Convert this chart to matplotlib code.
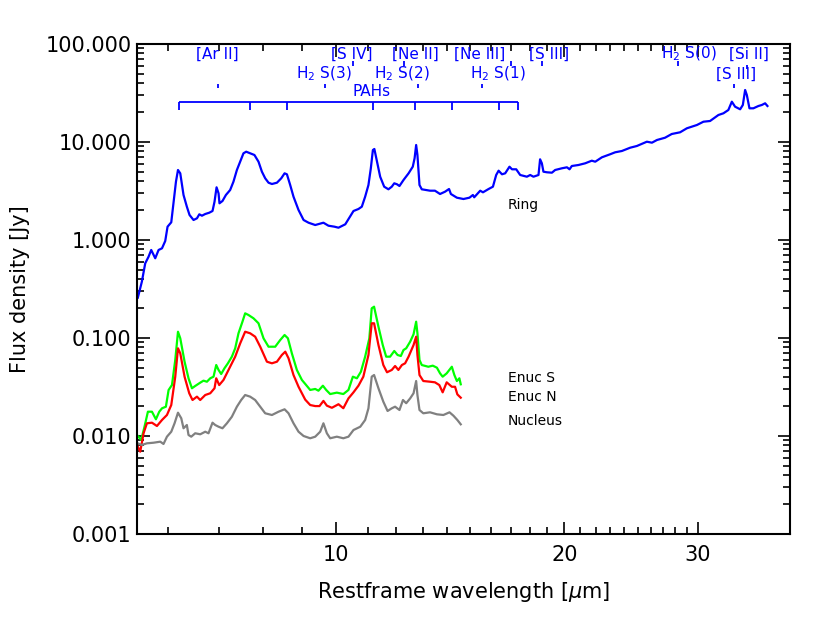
import matplotlib
matplotlib.use("Agg")
import matplotlib.pyplot as plt
from matplotlib.ticker import FixedLocator, NullFormatter, FixedFormatter

# Ring spectrum (wavelength in micron, flux in Jy)
ringWl = [5.474, 5.541, 5.598, 5.655, 5.701, 5.771, 5.830, 5.891, 5.949, 5.991,
          6.059, 6.102, 6.146, 6.184, 6.227, 6.289, 6.353, 6.405, 6.483, 6.551,
          6.598, 6.651, 6.718, 6.801, 6.868, 6.910, 6.953, 6.995, 7.015, 7.079,
          7.153, 7.246, 7.319, 7.396, 7.471, 7.545, 7.608, 7.700, 7.801, 7.898,
          7.980, 8.060, 8.142, 8.227, 8.353, 8.463, 8.549, 8.610, 8.696, 8.784,
          8.919, 9.057, 9.195, 9.383, 9.620, 9.768, 9.949, 10.07, 10.28, 10.43,
          10.54, 10.70, 10.81, 10.92, 11.03, 11.11, 11.18, 11.23, 11.32, 11.43,
          11.57, 11.72, 11.84, 11.93, 12.03, 12.12, 12.27, 12.46, 12.62, 12.69,
          12.75, 12.80, 12.88, 12.97, 13.30, 13.50, 13.71, 13.92, 14.09, 14.17,
          14.43, 14.72, 14.99, 15.15, 15.21, 15.49, 15.62, 15.89, 16.10, 16.26,
          16.38, 16.55, 16.71, 16.93, 17.06, 17.28, 17.49, 17.85, 18.03, 18.21,
          18.49, 18.58, 18.68, 18.77, 18.97, 19.26, 19.45, 19.85, 20.16, 20.32,
          20.46, 20.88, 21.31, 21.74, 21.97, 22.42, 22.98, 23.34, 23.82, 24.43,
          24.93, 25.70, 26.10, 26.50, 27.16, 27.72, 28.43, 29.02, 29.92, 30.52,
          31.14, 31.94, 32.43, 32.92, 33.27, 33.60, 34.12, 34.40, 34.64, 34.82,
          35.10, 35.52, 36.07, 36.44, 36.81, 37.07]
ringFlux = [0.258, 0.375, 0.578, 0.675, 0.791, 0.651, 0.791, 0.823, 0.977, 1.367,
            1.516, 2.459, 3.935, 5.18, 4.79, 2.879, 2.187, 1.800, 1.600, 1.665,
            1.829, 1.770, 1.842, 1.899, 1.977, 2.459, 3.450, 2.996, 2.369, 2.500,
            2.879, 3.237, 3.935, 5.18, 6.295, 7.668, 7.962, 7.668, 7.367, 6.295,
            4.978, 4.263, 3.843, 3.728, 3.843, 4.263, 4.79, 4.683, 3.641, 2.766,
            2.024, 1.600, 1.501, 1.422, 1.501, 1.399, 1.367, 1.335, 1.446, 1.729,
            1.977, 2.072, 2.187, 2.766, 3.641, 5.39, 8.286, 8.483, 6.295, 4.425,
            3.499, 3.292, 3.499, 3.790, 3.702, 3.556, 4.095, 4.79, 5.598, 6.82,
            9.32, 7.367, 3.641, 3.292, 3.185, 3.185, 2.947, 3.111, 3.315, 2.947,
            2.702, 2.620, 2.702, 2.879, 2.728, 3.185, 3.066, 3.315, 3.499, 4.606,
            5.095, 4.683, 4.79, 5.598, 5.266, 5.266, 4.606, 4.425, 4.606, 4.425,
            4.606, 6.661, 6.063, 4.978, 4.908, 4.862, 5.18, 5.39, 5.519, 5.266,
            5.690, 5.826, 6.063, 6.445, 6.295, 6.982, 7.490, 7.851, 8.094, 8.746,
            9.104, 10.07, 9.84, 10.48, 11.06, 12.07, 12.56, 13.80, 14.91, 16.11,
            16.38, 18.86, 19.63, 21.21, 25.78, 22.92, 21.57, 23.86, 33.94, 30.17,
            22.07, 22.07, 23.30, 23.86, 24.83, 23.30]

# Extranuclear south
enucSWl = [5.474, 5.53, 5.586, 5.644, 5.714, 5.783, 5.842, 5.891, 5.961, 6.010,
           6.072, 6.133, 6.184, 6.227, 6.309, 6.385, 6.452, 6.516, 6.616, 6.682,
           6.752, 6.821, 6.889, 6.946, 6.995, 7.051, 7.122, 7.197, 7.284, 7.358,
           7.432, 7.522, 7.584, 7.661, 7.778, 7.898, 8.019, 8.142, 8.309, 8.437,
           8.549, 8.636, 8.740, 8.874, 9.011, 9.102, 9.241, 9.383, 9.476, 9.604,
           9.701, 9.819, 10.02, 10.22, 10.38, 10.52, 10.65, 10.78, 10.92, 11.06,
           11.14, 11.22, 11.37, 11.52, 11.64, 11.78, 11.93, 12.05, 12.17, 12.27,
           12.37, 12.52, 12.65, 12.75, 12.80, 12.88, 12.97, 13.23, 13.41, 13.58,
           13.71, 13.82, 13.99, 14.21, 14.32, 14.43, 14.54, 14.60]
enucSFlux = [0.0100, 0.0091, 0.01244, 0.0177, 0.0177, 0.01481, 0.0177, 0.01917, 0.01991, 0.02946,
             0.03315, 0.05963, 0.1159, 0.0993, 0.0573, 0.0388, 0.0307, 0.0324, 0.0350, 0.0367,
             0.0358, 0.0388, 0.0403, 0.0530, 0.0472, 0.0429, 0.0491, 0.0552, 0.0645, 0.0785,
             0.1117, 0.1467, 0.1786, 0.1717, 0.1589, 0.1413, 0.0993, 0.0815, 0.0815, 0.0954,
             0.1073, 0.0993, 0.0698, 0.0472, 0.0373, 0.0340, 0.0295, 0.0302, 0.0290, 0.0326,
             0.0295, 0.0268, 0.0277, 0.0268, 0.0295, 0.0403, 0.0388, 0.0453, 0.0645, 0.0993,
             0.2009, 0.2087, 0.1304, 0.0848, 0.0645, 0.0645, 0.0737, 0.0671, 0.0655, 0.0754,
             0.0785, 0.0917, 0.1091, 0.1467, 0.1117, 0.0596, 0.0530, 0.0509, 0.0522, 0.0498,
             0.0436, 0.0403, 0.0436, 0.0509, 0.0419, 0.0364, 0.0388, 0.0337]

# Extranuclear north
enucNWl = [5.474, 5.514, 5.570, 5.627, 5.714, 5.801, 5.891, 5.980, 6.059, 6.133,
           6.184, 6.227, 6.309, 6.399, 6.463, 6.551, 6.616, 6.718, 6.821, 6.910,
           6.946, 7.009, 7.101, 7.210, 7.358, 7.471, 7.584, 7.700, 7.818, 7.939,
           8.102, 8.227, 8.353, 8.479, 8.567, 8.652, 8.784, 8.919, 9.102, 9.241,
           9.383, 9.506, 9.620, 9.721, 9.870, 10.07, 10.22, 10.38, 10.54, 10.70,
           10.86, 11.03, 11.14, 11.22, 11.37, 11.54, 11.67, 11.84, 11.96, 12.08,
           12.21, 12.33, 12.46, 12.65, 12.75, 12.80, 12.88, 13.03, 13.30, 13.50,
           13.68, 13.82, 13.99, 14.21, 14.35, 14.45, 14.60]
enucNFlux = [0.00778, 0.00692, 0.01066, 0.01348, 0.01367, 0.01265, 0.01457, 0.01638, 0.0207, 0.0403,
             0.0785, 0.0698, 0.0403, 0.0273, 0.0233, 0.0252, 0.0233, 0.0262, 0.0273, 0.0307,
             0.0388, 0.0331, 0.0373, 0.0472, 0.0645, 0.0883, 0.1159, 0.1117, 0.1031, 0.0815,
             0.0573, 0.0552, 0.0573, 0.0671, 0.0725, 0.0621, 0.0419, 0.0318, 0.0235, 0.0207,
             0.0202, 0.0202, 0.0228, 0.0204, 0.0194, 0.0211, 0.0192, 0.0242, 0.0279, 0.0326,
             0.0403, 0.0671, 0.1413, 0.1413, 0.0848, 0.0530, 0.0447, 0.0472, 0.0518, 0.0472,
             0.0530, 0.0552, 0.0645, 0.0848, 0.1031, 0.0671, 0.0419, 0.0364, 0.0358, 0.0353,
             0.0331, 0.0279, 0.0353, 0.0318, 0.0318, 0.0266, 0.0246]

# Nucleus
nucWl = [5.474, 5.541, 5.627, 5.741, 5.860, 5.918, 5.980, 6.059, 6.120, 6.184,
         6.246, 6.289, 6.353, 6.385, 6.438, 6.516, 6.616, 6.718, 6.785, 6.868,
         6.924, 6.995, 7.079, 7.175, 7.284, 7.396, 7.493, 7.584, 7.700, 7.818,
         7.939, 8.060, 8.227, 8.394, 8.549, 8.652, 8.784, 8.919, 9.057, 9.241,
         9.383, 9.526, 9.620, 9.721, 9.819, 10.02, 10.22, 10.38, 10.54, 10.76,
         10.92, 11.03, 11.14, 11.22, 11.37, 11.54, 11.69, 11.84, 11.96, 12.12,
         12.25, 12.37, 12.52, 12.65, 12.75, 12.80, 12.88, 13.03, 13.30, 13.58,
         13.85, 14.11, 14.28, 14.45, 14.60]
nucFlux = [0.00842, 0.0081, 0.00842, 0.00854, 0.00875, 0.00829, 0.00984, 0.01106, 0.01348, 0.01729,
           0.01516, 0.01199, 0.01295, 0.01024, 0.00984, 0.01066, 0.01041, 0.01106, 0.01066, 0.01367,
           0.01295, 0.01244, 0.01199, 0.01348, 0.01573, 0.01991, 0.0233, 0.0262, 0.0252, 0.0233,
           0.0199, 0.01705, 0.01638, 0.0177, 0.01873, 0.01705, 0.01348, 0.01106, 0.0100, 0.00948,
           0.00984, 0.01106, 0.01348, 0.01066, 0.00948, 0.00984, 0.00948, 0.00984, 0.01151, 0.01244,
           0.01457, 0.01917, 0.0403, 0.0419, 0.0307, 0.0224, 0.0180, 0.01917, 0.01991, 0.01842,
           0.0233, 0.0216, 0.0242, 0.0273, 0.0364, 0.0262, 0.01842, 0.01705, 0.01745, 0.01665,
           0.01638, 0.01745, 0.01611, 0.01457, 0.01316]

# Line identifications: label, text wavelength, text row
lineLabels = ["[Ar II]", "[S IV]", "[Ne II]", "[Ne III]", "[S III]", "H$_2$ S(0)", "[Si II]",
              "H$_2$ S(3)", "H$_2$ S(2)", "H$_2$ S(1)", "[S III]"]
labelWl = [6.97, 10.47, 12.71, 15.44, 19.10, 29.22, 35.07, 9.64, 12.22, 16.36, 33.7]
labelRow = [0, 0, 0, 0, 0, 0, 0, 1, 1, 1, 1]
rowFlux = [79.0, 49.4]

# line markers: wavelength, low/high end of the tick
markWl = [6.985, 9.665, 12.81, 15.56, 33.48, 10.51, 12.28, 17.03, 18.71, 28.22, 34.82]
markLow = [35.2, 35.2, 35.2, 35.2, 35.2, 59.7, 59.7, 59.7, 59.7, 59.7, 55.0]
markHigh = [39.5, 39.5, 39.5, 39.5, 39.5, 66.3, 66.3, 66.3, 66.3, 66.3, 61.0]

# PAH features
pahWl = [6.2, 7.7, 8.6, 11.2, 12.7, 14.2, 16.4, 17.4]

blue = "#0000ff"

fig = plt.figure(figsize=(8.3, 6.24), dpi=100)
ax = fig.add_axes([137 / 830, 90 / 624, 653 / 830, 490 / 624])

ax.plot(ringWl, ringFlux, color=blue, lw=1.6)
ax.plot(enucSWl, enucSFlux, color="#00ff00", lw=1.6)
ax.plot(enucNWl, enucNFlux, color="#ff0000", lw=1.6)
ax.plot(nucWl, nucFlux, color="#808080", lw=1.6)

ax.set_xscale("log")
ax.set_yscale("log")
ax.set_xlim(5.46, 39.7)
ax.set_ylim(0.001, 100)

# line labels
for lab, wl, row in zip(lineLabels, labelWl, labelRow):
    ax.text(wl, rowFlux[row], lab, color=blue, fontsize=11, ha="center", va="center")
ax.vlines(markWl, markLow, markHigh, color=blue, lw=1.3)

# PAH bracket
ax.hlines(25.6, pahWl[0], pahWl[-1], color=blue, lw=1.3)
ax.vlines(pahWl, 21.2, 25.6, color=blue, lw=1.3)
ax.text(11.12, 33.1, "PAHs", color=blue, fontsize=11, ha="center", va="center")

# curve names
ax.text(16.86, 2.28, "Ring", fontsize=10, ha="left", va="center")
ax.text(16.86, 0.0391, "Enuc S", fontsize=10, ha="left", va="center")
ax.text(16.86, 0.0250, "Enuc N", fontsize=10, ha="left", va="center")
ax.text(16.86, 0.0142, "Nucleus", fontsize=10, ha="left", va="center")

# axes
ax.xaxis.set_major_locator(FixedLocator([10, 20, 30]))
ax.xaxis.set_major_formatter(FixedFormatter(["10", "20", "30"]))
ax.xaxis.set_minor_locator(FixedLocator([6, 7, 8, 9] + list(range(11, 20)) + list(range(21, 30))))
ax.xaxis.set_minor_formatter(NullFormatter())
ax.set_yticks([0.001, 0.01, 0.1, 1, 10, 100])
ax.set_yticklabels(["0.001", "0.010", "0.100", "1.000", "10.000", "100.000"])

ax.tick_params(which="both", direction="in", top=True, right=True, width=1.2, labelsize=15)
ax.tick_params(which="major", length=9)
ax.tick_params(which="minor", length=5)
ax.tick_params(axis="x", pad=8)
ax.tick_params(axis="y", pad=4)
for sp in ax.spines.values():
    sp.set_linewidth(1.5)

ax.set_xlabel("Restframe wavelength [$\\mu$m]", fontsize=15, labelpad=11)
ax.set_ylabel("Flux density [Jy]", fontsize=15, labelpad=11)

fig.savefig("out.png", dpi=100)
